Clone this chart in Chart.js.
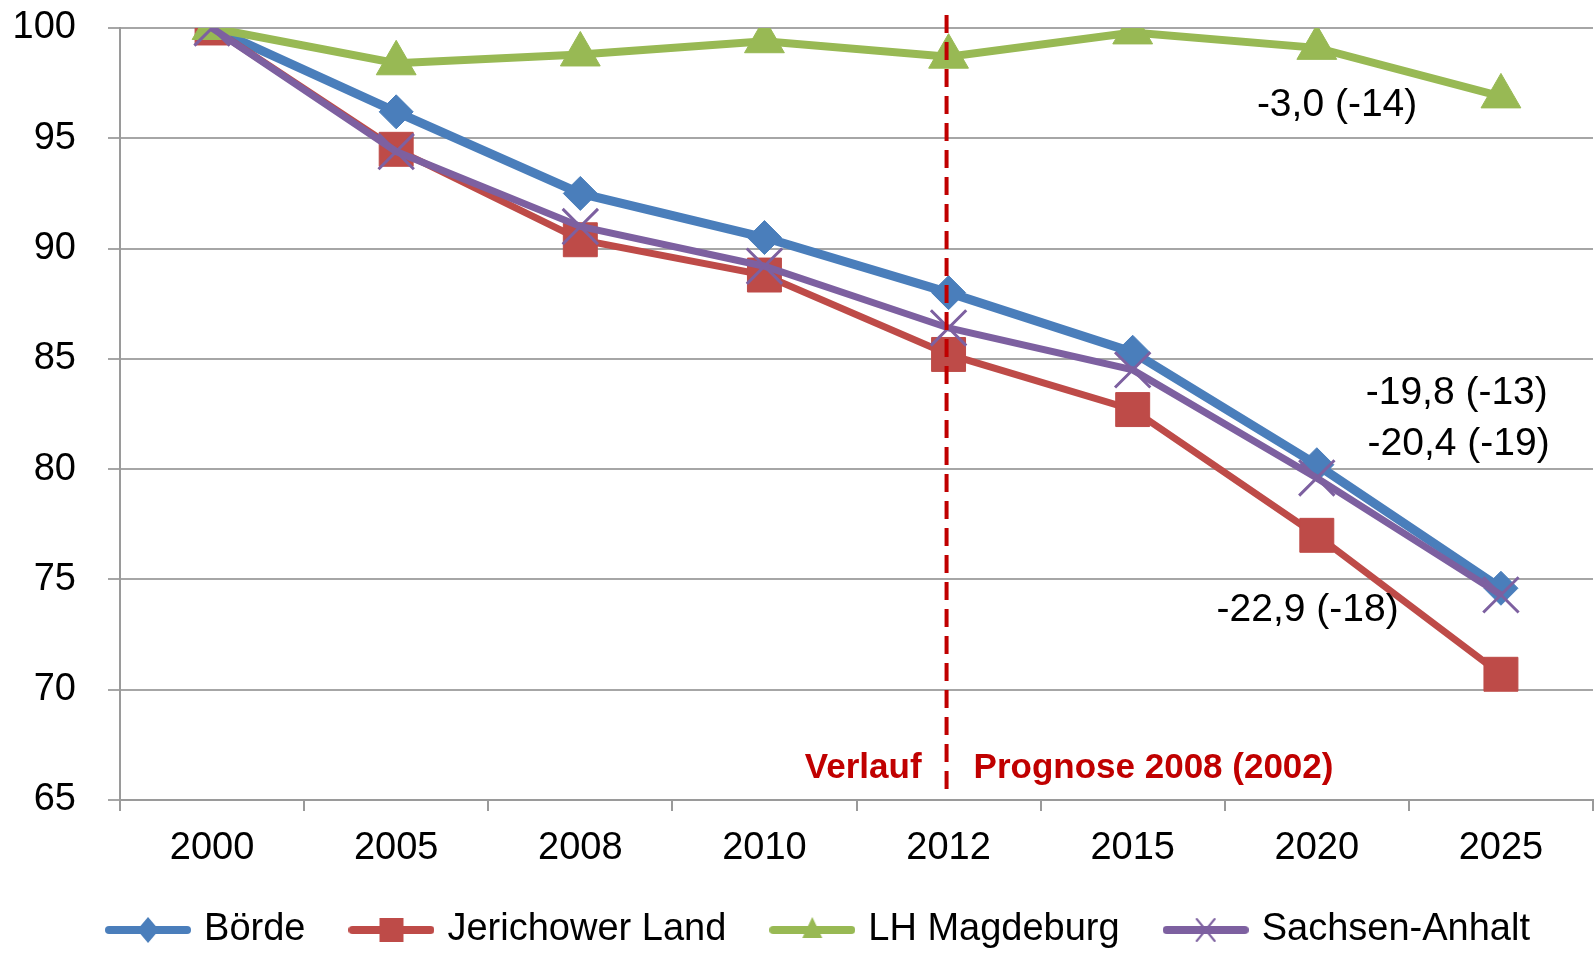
<!DOCTYPE html>
<html>
<head>
<meta charset="utf-8">
<script src="https://cdn.jsdelivr.net/npm/chart.js@4"></script>
<style>
  body { margin: 0; background: #fff; }
</style>
</head>
<body>
<canvas id="myChart" width="1595" height="959"></canvas>
<script>
// data (index, 2000 = 100)
const years = ['2000', '2005', '2008', '2010', '2012', '2015', '2020', '2025'];
const boerde = [100, 96.2, 92.5, 90.5, 88.0, 85.3, 80.2, 74.6];
const jerichowerLand = [100, 94.5, 90.4, 88.8, 85.2, 82.7, 77.0, 70.7];
const magdeburg = [100, 98.4, 98.8, 99.4, 98.7, 99.8, 99.1, 96.9];
const sachsenAnhalt = [100, 94.4, 91.0, 89.2, 86.4, 84.5, 79.6, 74.3];
const seriesNames = ['Börde', 'Jerichower Land', 'LH Magdeburg', 'Sachsen-Anhalt'];

// labels in the chart, placed in data units (category index, value)
const noteTexts = ['-3,0 (-14)', '-19,8 (-13)', '-20,4 (-19)', '-22,9 (-18)'];
const noteX = [6.11, 6.76, 6.77, 5.95];
const noteY = [96.5, 83.45, 81.15, 73.6];
const splitYear = '2012';

const FONT = '"Liberation Sans", Arial, sans-serif';
const colors = ['#4A7EBB', '#BE4B48', '#98B954', '#7D60A0'];

// small line+marker pictures for the legend
function legendIcon(i) {
  const c = document.createElement('canvas');
  c.width = 86; c.height = 30;
  const g = c.getContext('2d');
  g.strokeStyle = colors[i]; g.fillStyle = colors[i];
  g.lineWidth = 8; g.lineCap = 'round';
  g.beginPath(); g.moveTo(4, 15); g.lineTo(82, 15); g.stroke();
  g.beginPath();
  if (i === 0) {
    g.moveTo(43, 2); g.lineTo(54, 15); g.lineTo(43, 28); g.lineTo(32, 15); g.closePath(); g.fill();
  } else if (i === 1) {
    g.fillRect(31, 3, 24, 24);
  } else if (i === 2) {
    g.moveTo(43, 2); g.lineTo(53, 23); g.lineTo(33, 23); g.closePath(); g.fill();
  } else {
    g.lineWidth = 2;
    g.moveTo(34, 4); g.lineTo(52, 26); g.moveTo(52, 4); g.lineTo(34, 26); g.stroke();
  }
  return c;
}

const extras = {
  id: 'extras',
  afterLayout(chart) {
    // legend in the original sits a bit right of centre
    chart.legend.left += 24;
    chart.legend.right += 24;
  },
  afterDatasetsDraw(chart) {
    const { ctx, scales: { x, y }, chartArea } = chart;
    const lx = x.getPixelForValue(years.indexOf(splitYear)) - 2;
    ctx.save();
    ctx.strokeStyle = '#C00000';
    ctx.lineWidth = 4;
    ctx.setLineDash([18, 9]);
    ctx.beginPath();
    ctx.moveTo(lx, chartArea.top - 13);
    ctx.lineTo(lx, chartArea.bottom - 4);
    ctx.stroke();
    ctx.setLineDash([]);

    ctx.fillStyle = '#C00000';
    ctx.font = 'bold 35px ' + FONT;
    ctx.textBaseline = 'middle';
    const ty = y.getPixelForValue(66.45);
    ctx.textAlign = 'right';
    ctx.fillText('Verlauf', lx - 25, ty);
    ctx.textAlign = 'left';
    ctx.fillText('Prognose 2008 (2002)', lx + 27, ty);

    ctx.fillStyle = '#000';
    ctx.font = '39px ' + FONT;
    ctx.textAlign = 'center';
    noteTexts.forEach((t, i) => {
      ctx.fillText(t, x.getPixelForValue(noteX[i]), y.getPixelForValue(noteY[i]));
    });
    ctx.restore();
  }
};

const ctx = document.getElementById('myChart').getContext('2d');
const myChart = new Chart(ctx, {
  type: 'line',
  data: {
    labels: years,
    datasets: [{
      label: seriesNames[0],
      data: boerde,
      borderColor: colors[0], backgroundColor: colors[0],
      borderWidth: 9,
      pointStyle: 'rectRot', pointRadius: 17, pointBorderWidth: 1,
      order: 4
    }, {
      label: seriesNames[1],
      data: jerichowerLand,
      borderColor: colors[1], backgroundColor: colors[1],
      borderWidth: 7,
      pointStyle: 'rect', pointRadius: 24, pointBorderWidth: 1,
      order: 3
    }, {
      label: seriesNames[2],
      data: magdeburg,
      borderColor: colors[2], backgroundColor: colors[2],
      borderWidth: 8,
      pointStyle: 'triangle', pointRadius: 23, pointBorderWidth: 1,
      order: 2
    }, {
      label: seriesNames[3],
      data: sachsenAnhalt,
      borderColor: colors[3], backgroundColor: colors[3],
      borderWidth: 7,
      pointStyle: 'crossRot', pointRadius: 25, pointBorderWidth: 3,
      order: 1
    }]
  },
  options: {
    responsive: false,
    animation: false,
    layout: { autoPadding: false, padding: { top: 28, right: 2, bottom: 0, left: 0 } },
    plugins: {
      tooltip: { enabled: false },
      legend: {
        position: 'bottom',
        labels: {
          usePointStyle: true,
          pointStyleWidth: 74,
          padding: 49,
          color: '#000',
          font: { family: FONT, size: 38 },
          generateLabels: () => seriesNames.map((name, i) => ({
            text: name,
            pointStyle: legendIcon(i),
            fillStyle: colors[i],
            strokeStyle: colors[i],
            lineWidth: 0,
            hidden: false,
            datasetIndex: i
          }))
        }
      }
    },
    scales: {
      x: {
        offset: true,
        afterFit: s => { s.height = 62; s.paddingLeft = 0; s.paddingRight = 0; },
        border: { color: '#9A9A9A', width: 2 },
        grid: { offset: true, drawOnChartArea: false, color: '#9A9A9A', lineWidth: 2, tickLength: 11 },
        ticks: { color: '#000', padding: 15, font: { family: FONT, size: 38 } }
      },
      y: {
        min: 65, max: 100,
        afterFit: s => { s.width = 120; s.paddingTop = 0; s.paddingBottom = 0; },
        border: { color: '#9A9A9A', width: 2 },
        grid: { color: '#A6A6A6', lineWidth: 2, tickLength: 12 },
        ticks: { stepSize: 5, color: '#000', padding: 32, font: { family: FONT, size: 38 } }
      }
    }
  },
  plugins: [extras]
});
</script>
</body>
</html>
